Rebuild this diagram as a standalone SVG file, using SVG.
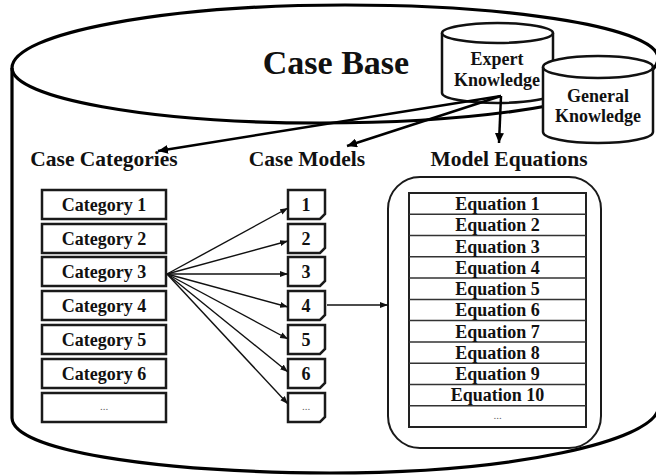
<svg xmlns="http://www.w3.org/2000/svg" width="656" height="476" viewBox="0 0 656 476">
<style>
text{font-family:"Liberation Serif","Times New Roman",serif;font-weight:bold;fill:#111;text-anchor:middle}
.box{fill:#fff;stroke:#1a1a1a;stroke-width:2.5}
.thin{fill:none;stroke:#1a1a1a;stroke-width:2}
.cyl{fill:#fff;stroke:#111;stroke-width:2.5}
.big{fill:none;stroke:#000;stroke-width:3.2}
.lab{font-size:18px}
.hdr{font-size:21.5px}
.dots{font-size:11px;font-weight:normal;fill:#666}
.a1{fill:none;stroke:#111;stroke-width:1.4;marker-end:url(#ah)}
.a2{fill:none;stroke:#000;stroke-width:2.5;marker-end:url(#ah2)}
.row{stroke:#333;stroke-width:1.5}
</style>
<defs>
<marker id="ah" markerUnits="userSpaceOnUse" markerWidth="9" markerHeight="7" refX="8" refY="3.5" orient="auto"><path d="M0,0.5 L8,3.5 L0,6.5 z" fill="#111"/></marker>
<marker id="ah2" markerUnits="userSpaceOnUse" markerWidth="12" markerHeight="9" refX="10" refY="4.5" orient="auto"><path d="M0,0 L10,4.5 L0,9 z" fill="#000"/></marker>
</defs>
<rect width="656" height="476" fill="#fff"/>
<g id="case-base">
<path class="big" d="M12,68 C12,33 166,5 345,5 C520,5 658,29 658,58 C658,94 504,123 320,123 C150,123 12,98 12,68 Z"/>
<path class="big" d="M12,68 V418 C13,450 150,472 330,473 C520,473 650,440 658,410 V58"/>
<text x="336" y="74" style="font-size:34px">Case Base</text>
</g>
<g id="expert-knowledge">
<path class="cyl" d="M442,33 V93 A55.5,10 0 0 0 553,93 V33"/>
<ellipse class="cyl" cx="497.5" cy="33" rx="55.5" ry="10"/>
<text class="lab" x="497" y="65">Expert</text>
<text class="lab" x="497" y="86">Knowledge</text>
</g>
<g id="general-knowledge">
<path class="cyl" d="M543,67 V132 A55,11 0 0 0 653,132 V67"/>
<ellipse class="cyl" cx="598" cy="67" rx="55" ry="11"/>
<text class="lab" x="598" y="102">General</text>
<text class="lab" x="598" y="122">Knowledge</text>
</g>
<g id="headers">
<text class="hdr" x="104" y="166">Case Categories</text>
<text class="hdr" x="307" y="166">Case Models</text>
<text class="hdr" x="509" y="166">Model Equations</text>
</g>
<g id="categories">
<g id="cat1"><rect class="box" x="42" y="190" width="124" height="29"/><text class="lab" x="104" y="211">Category 1</text></g>
<g id="cat2"><rect class="box" x="42" y="224" width="124" height="29"/><text class="lab" x="104" y="245">Category 2</text></g>
<g id="cat3"><rect class="box" x="42" y="257" width="124" height="29"/><text class="lab" x="104" y="278">Category 3</text></g>
<g id="cat4"><rect class="box" x="42" y="291" width="124" height="29"/><text class="lab" x="104" y="312">Category 4</text></g>
<g id="cat5"><rect class="box" x="42" y="325" width="124" height="29"/><text class="lab" x="104" y="346">Category 5</text></g>
<g id="cat6"><rect class="box" x="42" y="359" width="124" height="29"/><text class="lab" x="104" y="380">Category 6</text></g>
<g id="cat7"><rect class="box" x="42" y="393" width="124" height="29"/><text class="dots" x="104" y="410">...</text></g>
</g>
<g id="models">
<g id="m1"><path class="box" d="M288,190 h37 v24 l-5,5 h-32 z"/><text class="lab" x="306" y="211">1</text></g>
<g id="m2"><path class="box" d="M288,224 h37 v24 l-5,5 h-32 z"/><text class="lab" x="306" y="245">2</text></g>
<g id="m3"><path class="box" d="M288,257 h37 v24 l-5,5 h-32 z"/><text class="lab" x="306" y="278">3</text></g>
<g id="m4"><path class="box" d="M288,291 h37 v24 l-5,5 h-32 z"/><text class="lab" x="306" y="312">4</text></g>
<g id="m5"><path class="box" d="M288,325 h37 v24 l-5,5 h-32 z"/><text class="lab" x="306" y="346">5</text></g>
<g id="m6"><path class="box" d="M288,359 h37 v24 l-5,5 h-32 z"/><text class="lab" x="306" y="380">6</text></g>
<g id="m7"><path class="box" d="M288,393 h37 v24 l-5,5 h-32 z"/><text class="dots" x="306" y="410">...</text></g>
</g>
<g id="equations">
<rect class="thin" x="388" y="177" width="213" height="271" rx="32"/>
<rect x="409" y="193" width="177" height="234" fill="#fff" stroke="#222" stroke-width="2"/>
<path class="row" d="M409,214.3H586M409,235.5H586M409,256.8H586M409,278.1H586M409,299.4H586M409,320.6H586M409,341.9H586M409,363.2H586M409,384.5H586M409,405.7H586"/>
<text class="lab" x="497.5" y="210">Equation 1</text>
<text class="lab" x="497.5" y="231">Equation 2</text>
<text class="lab" x="497.5" y="252.5">Equation 3</text>
<text class="lab" x="497.5" y="273.5">Equation 4</text>
<text class="lab" x="497.5" y="295">Equation 5</text>
<text class="lab" x="497.5" y="316">Equation 6</text>
<text class="lab" x="497.5" y="337.5">Equation 7</text>
<text class="lab" x="497.5" y="358.5">Equation 8</text>
<text class="lab" x="497.5" y="380">Equation 9</text>
<text class="lab" x="497.5" y="401">Equation 10</text>
<text class="dots" x="497.5" y="419">...</text>
</g>
<g id="connectors">
<path class="a2" d="M501,96 L158,151"/>
<path class="a2" d="M501,96 L347,146"/>
<path class="a2" d="M501,96 L499,143"/>
<path class="a1" d="M167,274 L288,208"/>
<path class="a1" d="M167,274 L288,241"/>
<path class="a1" d="M167,274 L288,274"/>
<path class="a1" d="M167,274 L288,307"/>
<path class="a1" d="M167,274 L288,339"/>
<path class="a1" d="M167,274 L288,372"/>
<path class="a1" d="M167,274 L288,404"/>
<path class="a1" d="M327,305 L388,305"/>
</g>
</svg>
